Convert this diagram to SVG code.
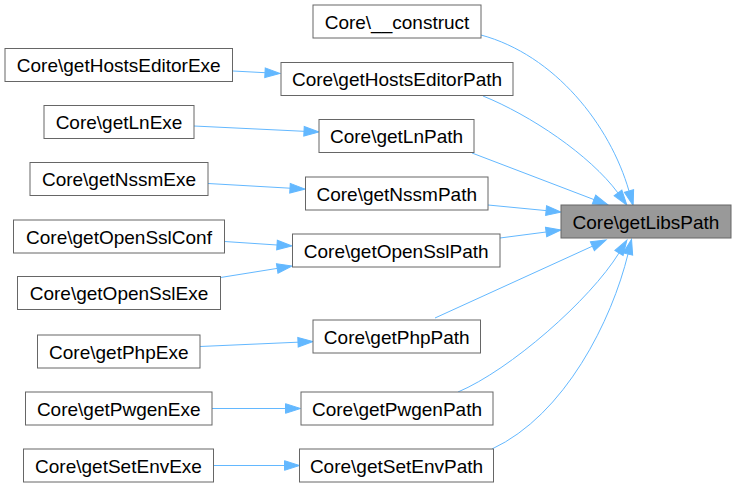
<svg xmlns="http://www.w3.org/2000/svg" width="736" height="487" viewBox="0 0 736 487">
<style>
.n rect{fill:#ffffff;stroke:#666666;stroke-width:1}
#libs rect{fill:#999999;stroke:#666666}
.n text{font-family:"Liberation Sans",Arial,sans-serif;font-size:19px;fill:#000000;text-anchor:middle}
.e path{fill:none;stroke:#63b8ff;stroke-width:1;marker-end:url(#ah)}
</style>
<defs>
<marker id="ah" markerUnits="userSpaceOnUse" markerWidth="16" markerHeight="12" refX="0" refY="0" viewBox="0 -6 16 12" orient="auto" overflow="visible">
<path d="M0,-4.8 L15,0 L0,4.8 z" fill="#63b8ff" stroke="#63b8ff" stroke-width="1"/>
</marker>
</defs>
<rect width="736" height="487" fill="#ffffff"/>
<g class="e" id="edges">
<path d="M233,71 L265,72.7"/>
<path d="M194,126 L304,131.3"/>
<path d="M208,183.5 L290,188.2"/>
<path d="M224.5,241.5 L277,245"/>
<path d="M220.5,277.5 L277.2,268.4"/>
<path d="M200,346.5 L298,342.2"/>
<path d="M212,408.5 L285.5,408.5"/>
<path d="M213.5,465.5 L284.5,465.5"/>
<path d="M488,205 L546.1,210.6"/>
<path d="M500,238 L546.1,232"/>
<path d="M435,318 L592.4,246.2"/>
<path d="M472,153 L594,199.6"/>
<path d="M481,35 C555,55 610,125 629,191"/>
<path d="M483,96 C530,115 590,155 618,193"/>
<path d="M458,392 C510,370 590,300 619,253"/>
<path d="M492,449 C565,415 612,320 628,254"/>
</g>
<g class="n" id="libs"><rect x="561" y="205" width="170" height="33"/><text x="646" y="228.5">Core\getLibsPath</text></g>
<g class="n" id="construct"><rect x="313" y="5" width="168" height="33"/><text x="397" y="28.5">Core\__construct</text></g>
<g class="n" id="hostsEditorPath"><rect x="281" y="62.5" width="232" height="33"/><text x="397" y="86">Core\getHostsEditorPath</text></g>
<g class="n" id="lnPath"><rect x="319" y="119.5" width="155" height="33"/><text x="396.5" y="143">Core\getLnPath</text></g>
<g class="n" id="nssmPath"><rect x="305.5" y="177" width="182.5" height="33"/><text x="396.75" y="200.5">Core\getNssmPath</text></g>
<g class="n" id="openSslPath"><rect x="292.5" y="234" width="207.5" height="33"/><text x="396.25" y="257.5">Core\getOpenSslPath</text></g>
<g class="n" id="phpPath"><rect x="313" y="320" width="167.5" height="33"/><text x="396.75" y="343.5">Core\getPhpPath</text></g>
<g class="n" id="pwgenPath"><rect x="301" y="392" width="192" height="33"/><text x="397" y="415.5">Core\getPwgenPath</text></g>
<g class="n" id="setEnvPath"><rect x="299.5" y="449" width="194" height="33"/><text x="396.5" y="472.5">Core\getSetEnvPath</text></g>
<g class="n" id="hostsEditorExe"><rect x="5" y="48.5" width="227.5" height="33"/><text x="118.75" y="72">Core\getHostsEditorExe</text></g>
<g class="n" id="lnExe"><rect x="44" y="105.5" width="150" height="33"/><text x="119" y="129">Core\getLnExe</text></g>
<g class="n" id="nssmExe"><rect x="30" y="162.5" width="178" height="33"/><text x="119" y="186">Core\getNssmExe</text></g>
<g class="n" id="openSslConf"><rect x="13.5" y="220" width="211" height="33"/><text x="119" y="243.5">Core\getOpenSslConf</text></g>
<g class="n" id="openSslExe"><rect x="17.5" y="276.5" width="203" height="33"/><text x="119" y="300">Core\getOpenSslExe</text></g>
<g class="n" id="phpExe"><rect x="37.5" y="335" width="162.5" height="33"/><text x="118.75" y="358.5">Core\getPhpExe</text></g>
<g class="n" id="pwgenExe"><rect x="25.5" y="392" width="186.5" height="33"/><text x="118.75" y="415.5">Core\getPwgenExe</text></g>
<g class="n" id="setEnvExe"><rect x="23.5" y="449" width="190" height="33"/><text x="118.5" y="472.5">Core\getSetEnvExe</text></g>
</svg>
